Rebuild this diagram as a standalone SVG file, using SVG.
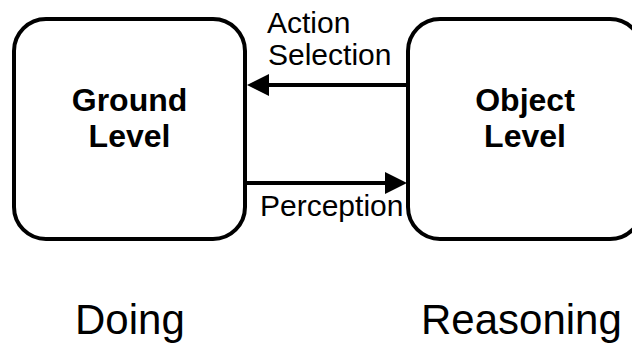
<svg xmlns="http://www.w3.org/2000/svg" width="632" height="343" viewBox="0 0 632 343">
<style>
.box{fill:#fff;stroke:#000;stroke-width:4}
.lbl{font-family:"Liberation Sans",Arial,sans-serif;font-weight:bold;font-size:32px;fill:#000;text-anchor:middle}
.edge{fill:none;stroke:#000;stroke-width:4;marker-end:url(#arr)}
.elbl{font-family:"Liberation Sans",Arial,sans-serif;font-size:30px;fill:#000}
.cap{font-family:"Liberation Sans",Arial,sans-serif;font-size:42px;fill:#000}
</style>
<defs>
<marker id="arr" markerUnits="userSpaceOnUse" markerWidth="22" markerHeight="22" refX="4" refY="11" orient="auto">
<path d="M0,0 L22,11 L0,22 z" fill="#000"/>
</marker>
</defs>
<rect width="632" height="343" fill="#fff"/>
<g id="ground">
<rect class="box" x="14" y="19" width="231" height="220" rx="32" ry="32"/>
<text class="lbl" x="129.5" y="111">Ground</text>
<text class="lbl" x="129.5" y="147">Level</text>
</g>
<g id="object">
<rect class="box" x="408" y="19" width="234" height="220" rx="32" ry="32"/>
<text class="lbl" x="525" y="111">Object</text>
<text class="lbl" x="525" y="147">Level</text>
</g>
<g id="connectors">
<path class="edge" d="M408,85 L265,85"/>
<path class="edge" d="M245,183 L389,183"/>
<text class="elbl" x="267" y="33">Action</text>
<text class="elbl" x="268" y="65">Selection</text>
<text class="elbl" x="260" y="216">Perception</text>
</g>
<text class="cap" x="75" y="334">Doing</text>
<text class="cap" x="421" y="334">Reasoning</text>
</svg>
